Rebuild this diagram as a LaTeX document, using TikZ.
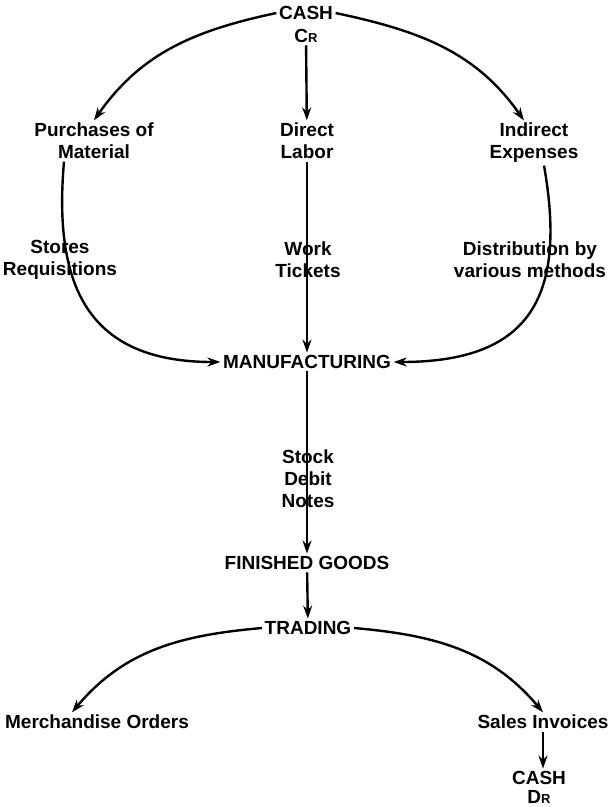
\documentclass[tikz,border=0pt]{standalone}
\usepackage{fontspec}
\setmainfont{Liberation Sans}
\usetikzlibrary{arrows.meta,positioning}
\tikzstyle{item} = [font=\fontsize{19}{22}\selectfont\bfseries, align=center, inner sep=1.5pt]
\newcommand{\smallcap}[1]{{\fontsize{13}{13}\selectfont #1}}

\begin{document}
\begin{tikzpicture}[x=1pt,y=1pt,->,>={Stealth[length=13pt,width=9pt]},line width=2.4pt,
                    node distance=4pt]
  \useasboundingbox (0,0) rectangle (609,-807);

  \node[item] (cash)     at (306,-13)  {CASH};
  \node[item] (cr)       [below=of cash] {C\smallcap{R}};
  \node[item] (purch)    at (94,-141)  {Purchases of\\Material};
  \node[item] (labor)    at (307,-141) {Direct\\Labor};
  \node[item] (indir)    at (534,-143) {Indirect\\Expenses};
  \node[item] (stores)   at (60,-260)  {Stores\\Requisitions};
  \node[item] (work)     at (308,-260) {Work\\Tickets};
  \node[item] (distrib)  at (530,-260) {Distribution by\\various methods};
  \node[item] (manuf)    at (307,-362) {MANUFACTURING};
  \node[item] (stock)    at (308,-479) {Stock\\Debit\\Notes};
  \node[item] (finished) at (307,-563) {FINISHED GOODS};
  \node[item] (trading)  at (308,-628) {TRADING};
  \node[item] (merch)    at (97,-722)  {Merchandise Orders};
  \node[item] (sales)    at (543,-722) {Sales Invoices};
  \node[item] (cashdr)   at (539,-778) {CASH};
  \node[item] (dr)       [below=0pt of cashdr] {D\smallcap{R}};

  \path (cash.west) edge[out=192,in=55] (purch.north)
        (cash.east) edge[out=-12,in=125] ([xshift=-10pt]indir.north)
        (cr) edge (labor)
        ([xshift=-30pt]purch.south) edge[out=-95,in=180,looseness=1.3] (manuf.west)
        (labor) edge (manuf)
        ([xshift=10pt]indir.south) edge[out=-80,in=0,looseness=1.4] (manuf.east)
        (manuf) edge (finished)
        (finished) edge (trading)
        (trading.west) edge[out=185,in=50] ([xshift=-25pt]merch.north)
        (trading.east) edge[out=-5,in=130] (sales.north)
        (sales) edge (sales |- cashdr.north);
\end{tikzpicture}
\end{document}
